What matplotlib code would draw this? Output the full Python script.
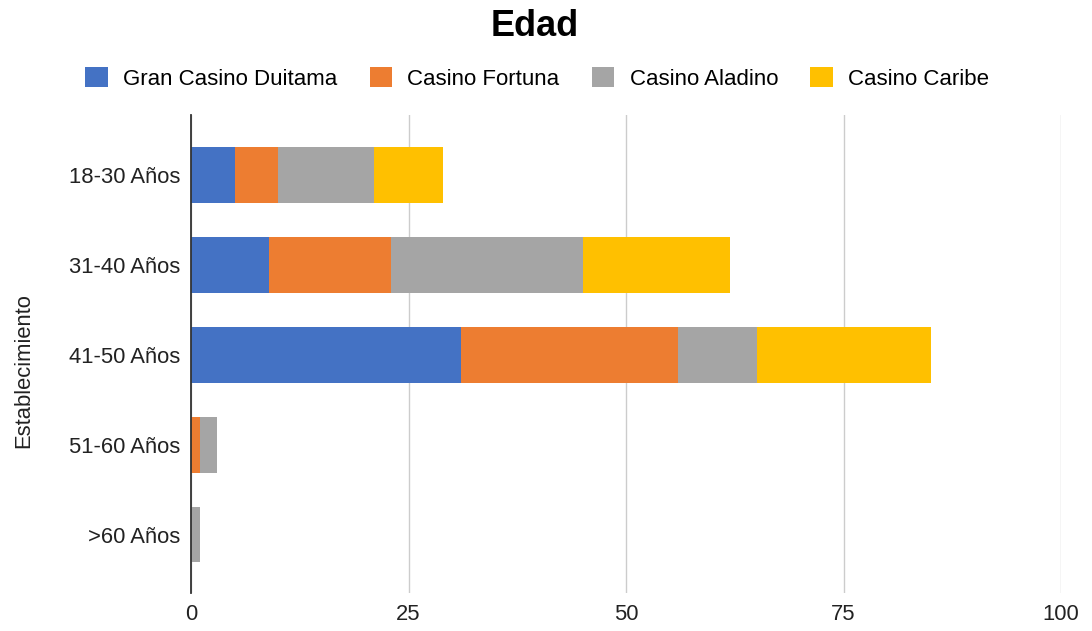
import matplotlib
matplotlib.use('Agg')
import matplotlib.pyplot as plt
import numpy as np

plt.rcParams['font.family'] = ['Liberation Sans', 'DejaVu Sans']

# Data
categories = ['18-30 Años', '31-40 Años', '41-50 Años', '51-60 Años', '>60 Años']
series_names = ['Gran Casino Duitama', 'Casino Fortuna', 'Casino Aladino', 'Casino Caribe']
duitama = [5, 9, 31, 0, 0]
fortuna = [5, 14, 25, 1, 0]
aladino = [11, 22, 9, 2, 1]
caribe = [8, 17, 20, 0, 0]
colors = ['#4472c4', '#ed7d31', '#a5a5a5', '#ffc000']

fig = plt.figure(figsize=(10.92, 6.31), dpi=100)
ax = fig.add_axes([0.175, 0.0602, 0.7966, 0.7575])

y = np.arange(len(categories))
left = np.zeros(len(categories))
for name, vals, c in zip(series_names, [duitama, fortuna, aladino, caribe], colors):
    ax.barh(y, vals, left=left, height=0.62, color=c, label=name, zorder=3)
    left += np.array(vals)

ax.set_xlim(0, 100)
ax.set_ylim(4.65, -0.67)
ax.set_xticks([0, 25, 50, 75, 100])
ax.set_yticks(y)
ax.set_yticklabels(categories)
ax.tick_params(axis='both', length=0, labelsize=15.8, colors='#222222')
ax.tick_params(axis='x', pad=8)
ax.tick_params(axis='y', pad=8)
ax.grid(axis='x', color='#cccccc', linewidth=1, zorder=0)
for s in ['top', 'right', 'bottom']:
    ax.spines[s].set_visible(False)
ax.spines['left'].set_color('#333333')
ax.spines['left'].set_linewidth(1.3)
ax.spines['left'].set_zorder(4)

# axis title and chart title
fig.text(0.022, 0.412, 'Establecimiento', rotation=90, ha='center', va='center',
         fontsize=15.8, color='#222222')
fig.text(0.490, 0.958, 'Edad', ha='center', va='center', fontsize=26, fontweight='bold')

fig.legend(loc='center', bbox_to_anchor=(0.492, 0.876), ncol=4, frameon=False,
           fontsize=16, handlelength=1.0, handleheight=1.0, columnspacing=1.45,
           handletextpad=0.7)

plt.savefig('out.png', dpi=100)
